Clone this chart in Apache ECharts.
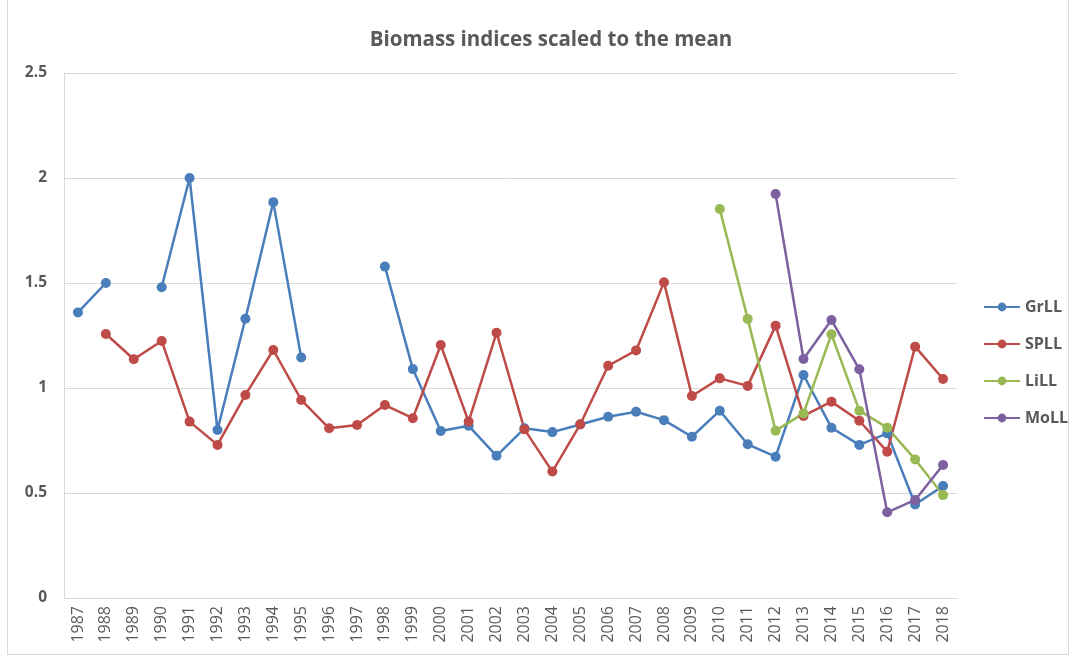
<!DOCTYPE html>
<html>
<head>
<meta charset="utf-8">
<script src="https://cdn.jsdelivr.net/npm/echarts@6/dist/echarts.min.js"></script>
<style>
html,body{margin:0;padding:0;background:#fff;}
#frame{position:absolute;left:7px;top:-1px;width:1062px;height:656px;border:1px solid #d9d9d9;box-sizing:border-box;}
#chart{position:absolute;left:0;top:0;width:1077px;height:662px;}
</style>
</head>
<body>
<div id="frame"></div>
<div id="chart"></div>
<script>
const years = ['1987','1988','1989','1990','1991','1992','1993','1994','1995','1996','1997','1998','1999','2000','2001','2002','2003','2004','2005','2006','2007','2008','2009','2010','2011','2012','2013','2014','2015','2016','2017','2018'];
const grLL = [1.36,1.50,null,1.48,2.00,0.80,1.33,1.885,1.145,null,null,1.578,1.09,0.795,0.82,0.677,0.808,0.79,0.826,0.863,0.887,0.847,0.768,0.892,0.732,0.673,1.062,0.811,0.729,0.784,0.445,0.533];
const spLL = [null,1.257,1.137,1.224,0.84,0.729,0.967,1.181,0.943,0.808,0.824,0.919,0.856,1.205,0.84,1.263,0.803,0.602,0.827,1.106,1.179,1.503,0.962,1.046,1.01,1.297,0.867,0.935,0.844,0.697,1.197,1.043];
const liLL = [null,null,null,null,null,null,null,null,null,null,null,null,null,null,null,null,null,null,null,null,null,null,null,1.852,1.329,0.797,0.879,1.256,0.892,0.811,0.66,0.49];
const moLL = [null,null,null,null,null,null,null,null,null,null,null,null,null,null,null,null,null,null,null,null,null,null,null,null,null,1.924,1.138,1.324,1.089,0.408,0.467,0.633];
const yTicks = [0,0.5,1,1.5,2,2.5];

const colors = ['#4a7ebb','#be4b48','#98b954','#7d60a0'];
const names = ['GrLL','SPLL','LiLL','MoLL'];
const datas = [grLL, spLL, liLL, moLL];

const chart = echarts.init(document.getElementById('chart'));
chart.setOption({
  backgroundColor: 'transparent',
  animation: false,
  title: {
    text: 'Biomass indices scaled to the mean',
    left: 546, top: 25, textAlign: 'center',
    textStyle: {fontFamily: 'Open Sans', fontSize: 20.5, fontWeight: 'bold', color: '#595959'}
  },
  legend: {
    orient: 'vertical', left: 978, top: 294, itemGap: 21, itemWidth: 36, itemHeight: 11,
    textStyle: {fontFamily: 'Open Sans', fontSize: 16, fontWeight: 'bold', color: '#595959'},
    data: names
  },
  grid: {left: 64, right: 120, top: 73, bottom: 64, containLabel: false},
  xAxis: {
    type: 'category', data: years, boundaryGap: true,
    axisLine: {show: true, lineStyle: {color: '#d9d9d9', width: 1}},
    axisTick: {show: false},
    axisLabel: {rotate: 90, fontFamily: 'Open Sans', fontSize: 16, color: '#595959', margin: 8, interval: 0}
  },
  yAxis: {
    type: 'value', min: 0, max: 2.5, interval: 0.5,
    axisLine: {show: true, lineStyle: {color: '#d9d9d9', width: 1}},
    axisTick: {show: false},
    splitLine: {lineStyle: {color: '#d9d9d9', width: 1}},
    axisLabel: {fontFamily: 'Open Sans', fontSize: 15.5, fontWeight: 'bold', color: '#595959', margin: 17,
      formatter: v => yTicks.includes(v) ? String(v) : ''}
  },
  series: datas.map((d, i) => ({
    name: names[i], type: 'line', data: d, connectNulls: false,
    symbol: 'circle', symbolSize: 10,
    itemStyle: {color: colors[i]},
    lineStyle: {color: colors[i], width: 2.5}
  }))
});
</script>
</body>
</html>
